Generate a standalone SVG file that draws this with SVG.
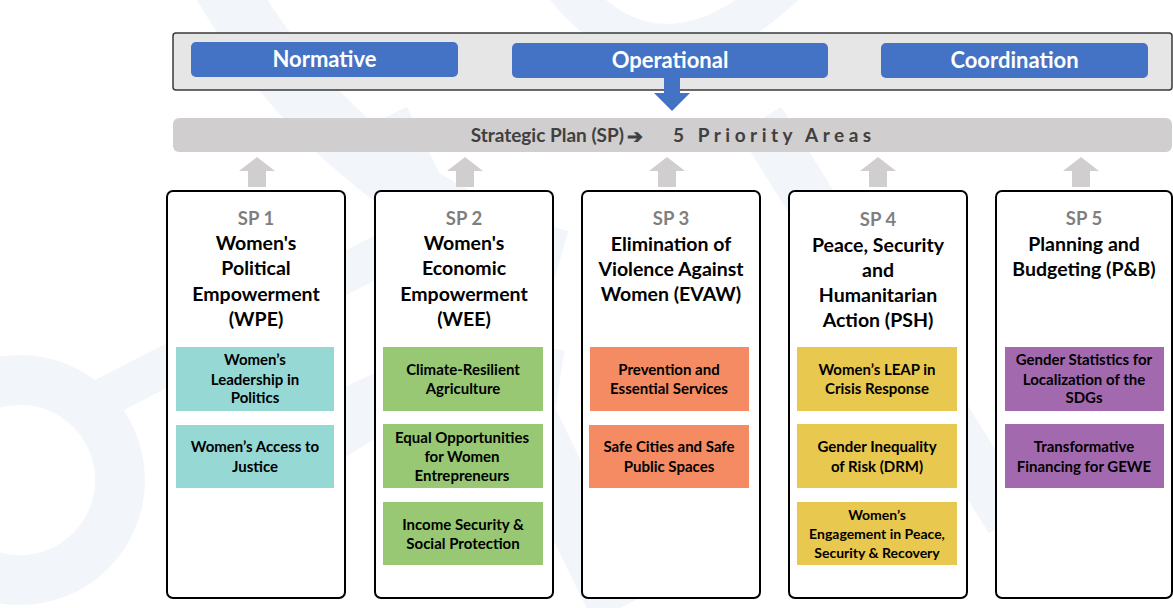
<svg xmlns="http://www.w3.org/2000/svg" width="1173" height="608" viewBox="0 0 1173 608">
<style>
.bg{fill:#ffffff}
.wm{fill:none;stroke:#f2f5fa}
.outer{fill:#e6e6e6;stroke:#3a3a3a;stroke-width:1.5}
.btn{fill:#4472c4}
.btnt{font-family:Lato,"Liberation Sans",sans-serif;font-weight:700;font-size:22px;fill:#ffffff;text-anchor:middle}
.sp{fill:#d0cece}
.spt{font-family:Lato,"Liberation Sans",sans-serif;font-weight:700;font-size:19px;fill:#404040}
.col{fill:#ffffff;stroke:#000000;stroke-width:2}
.num{font-family:Lato,"Liberation Sans",sans-serif;font-weight:700;font-size:18.5px;fill:#7f7f7f;text-anchor:middle}
.ttl{font-family:Lato,"Liberation Sans",sans-serif;font-weight:700;font-size:19.5px;fill:#000000;text-anchor:middle}
.sub{font-family:Lato,"Liberation Sans",sans-serif;font-weight:700;font-size:15px;fill:#000000;text-anchor:middle}
.sm{font-size:14px}
.teal{fill:#96d8d4}
.green{fill:#98c873}
.orange{fill:#f58b62}
.yellow{fill:#e8c84f}
.purple{fill:#a369ae}
.up{fill:#d0cece}
.down{fill:#4472c4}
</style>
<rect class="bg" x="0" y="0" width="1173" height="608"/>
<g id="watermark">
<circle class="wm" cx="20" cy="480" r="100" stroke-width="50"/>
<path class="wm" d="M100 400 L390 250" stroke-width="40"/>
<path class="wm" d="M220 -20 C300 120 420 220 560 260" stroke-width="60"/>
<path class="wm" d="M560 -20 C620 60 700 70 790 -20" stroke-width="40"/>
<path class="wm" d="M210 560 C300 420 420 360 560 380" stroke-width="60"/>
<path class="wm" d="M380 120 L620 608" stroke-width="60"/>
<path class="wm" d="M760 120 L1010 520" stroke-width="50"/>
</g>
<g id="top-panel">
<rect class="outer" x="173" y="33" width="999" height="57" rx="3"/>
</g>
<g id="normative">
<rect class="btn" x="191" y="42" width="267" height="35" rx="5"/>
<text class="btnt" x="324.5" y="67">Normative</text>
</g>
<g id="operational">
<rect class="btn" x="512" y="43" width="316" height="35" rx="5"/>
<text class="btnt" x="670" y="68">Operational</text>
</g>
<g id="coordination">
<rect class="btn" x="881" y="43" width="267" height="35" rx="5"/>
<text class="btnt" x="1014.5" y="68">Coordination</text>
</g>
<g id="strategic-plan">
<rect class="sp" x="173" y="118" width="999" height="34" rx="6"/>
<text class="spt" x="624" y="142" text-anchor="end">Strategic Plan (SP)</text>
<text class="spt" x="627" y="143" font-family="DejaVu Sans" font-size="21">➔</text>
<text class="spt" x="673" y="142" letter-spacing="4.5">5 Priority Areas</text>
</g>
<g id="connectors">
<path class="down" d="M664 78 H680 V93 H690 L672 111 L654 93 H664 Z"/>
<path class="up" d="M257 157 L275 171 H266 V187 H248 V171 H239 Z"/>
<path class="up" d="M465 157 L483 171 H474 V187 H456 V171 H447 Z"/>
<path class="up" d="M667 157 L685 171 H676 V187 H658 V171 H649 Z"/>
<path class="up" d="M878 157 L896 171 H887 V187 H869 V171 H860 Z"/>
<path class="up" d="M1081 157 L1099 171 H1090 V187 H1072 V171 H1063 Z"/>
</g>
<g id="sp1">
<rect class="col" x="167" y="191" width="178" height="407" rx="6"/>
<text class="num" x="256" y="225">SP 1</text>
<text class="ttl" x="256" y="250">Women's</text>
<text class="ttl" x="256" y="275">Political</text>
<text class="ttl" x="256" y="301">Empowerment</text>
<text class="ttl" x="256" y="326">(WPE)</text>
<rect class="teal" x="176" y="347" width="158" height="64"/>
<text class="sub" x="255" y="365">Women’s</text>
<text class="sub" x="255" y="385">Leadership in</text>
<text class="sub" x="255" y="403">Politics</text>
<rect class="teal" x="176" y="425" width="158" height="63"/>
<text class="sub" x="255" y="452">Women’s Access to</text>
<text class="sub" x="255" y="472">Justice</text>
</g>
<g id="sp2">
<rect class="col" x="375" y="191" width="178" height="407" rx="6"/>
<text class="num" x="464" y="225">SP 2</text>
<text class="ttl" x="464" y="250">Women's</text>
<text class="ttl" x="464" y="275">Economic</text>
<text class="ttl" x="464" y="301">Empowerment</text>
<text class="ttl" x="464" y="326">(WEE)</text>
<rect class="green" x="383" y="347" width="160" height="64"/>
<text class="sub" x="463" y="375">Climate-Resilient</text>
<text class="sub" x="463" y="394">Agriculture</text>
<rect class="green" x="383" y="424" width="160" height="64"/>
<text class="sub" x="462" y="443">Equal Opportunities</text>
<text class="sub" x="462" y="462">for Women</text>
<text class="sub" x="462" y="481">Entrepreneurs</text>
<rect class="green" x="383" y="502" width="160" height="63"/>
<text class="sub" x="463" y="530">Income Security &amp;</text>
<text class="sub" x="463" y="549">Social Protection</text>
</g>
<g id="sp3">
<rect class="col" x="582" y="191" width="178" height="407" rx="6"/>
<text class="num" x="671" y="225">SP 3</text>
<text class="ttl" x="671" y="251">Elimination of</text>
<text class="ttl" x="671" y="276">Violence Against</text>
<text class="ttl" x="671" y="301">Women (EVAW)</text>
<rect class="orange" x="590" y="347" width="159" height="64"/>
<text class="sub" x="669" y="375">Prevention and</text>
<text class="sub" x="669" y="394">Essential Services</text>
<rect class="orange" x="589" y="425" width="160" height="63"/>
<text class="sub" x="669" y="452">Safe Cities and Safe</text>
<text class="sub" x="669" y="472">Public Spaces</text>
</g>
<g id="sp4">
<rect class="col" x="789" y="191" width="178" height="407" rx="6"/>
<text class="num" x="878" y="226">SP 4</text>
<text class="ttl" x="878" y="252">Peace, Security</text>
<text class="ttl" x="878" y="277">and</text>
<text class="ttl" x="878" y="302">Humanitarian</text>
<text class="ttl" x="878" y="327">Action (PSH)</text>
<rect class="yellow" x="797" y="347" width="160" height="64"/>
<text class="sub" x="877" y="375">Women’s LEAP in</text>
<text class="sub" x="877" y="394">Crisis Response</text>
<rect class="yellow" x="797" y="424" width="160" height="64"/>
<text class="sub" x="877" y="452">Gender Inequality</text>
<text class="sub" x="877" y="472">of Risk (DRM)</text>
<rect class="yellow" x="797" y="502" width="160" height="63"/>
<text class="sub sm" x="877" y="520">Women’s</text>
<text class="sub sm" x="877" y="539">Engagement in Peace,</text>
<text class="sub sm" x="877" y="558">Security &amp; Recovery</text>
</g>
<g id="sp5">
<rect class="col" x="996" y="191" width="176" height="407" rx="6"/>
<text class="num" x="1084" y="225">SP 5</text>
<text class="ttl" x="1084" y="251">Planning and</text>
<text class="ttl" x="1084" y="276">Budgeting (P&amp;B)</text>
<rect class="purple" x="1005" y="347" width="159" height="64"/>
<text class="sub" x="1084" y="365">Gender Statistics for</text>
<text class="sub" x="1084" y="385">Localization of the</text>
<text class="sub" x="1084" y="403">SDGs</text>
<rect class="purple" x="1005" y="424" width="159" height="64"/>
<text class="sub" x="1084" y="452">Transformative</text>
<text class="sub" x="1084" y="472">Financing for GEWE</text>
</g>
</svg>
